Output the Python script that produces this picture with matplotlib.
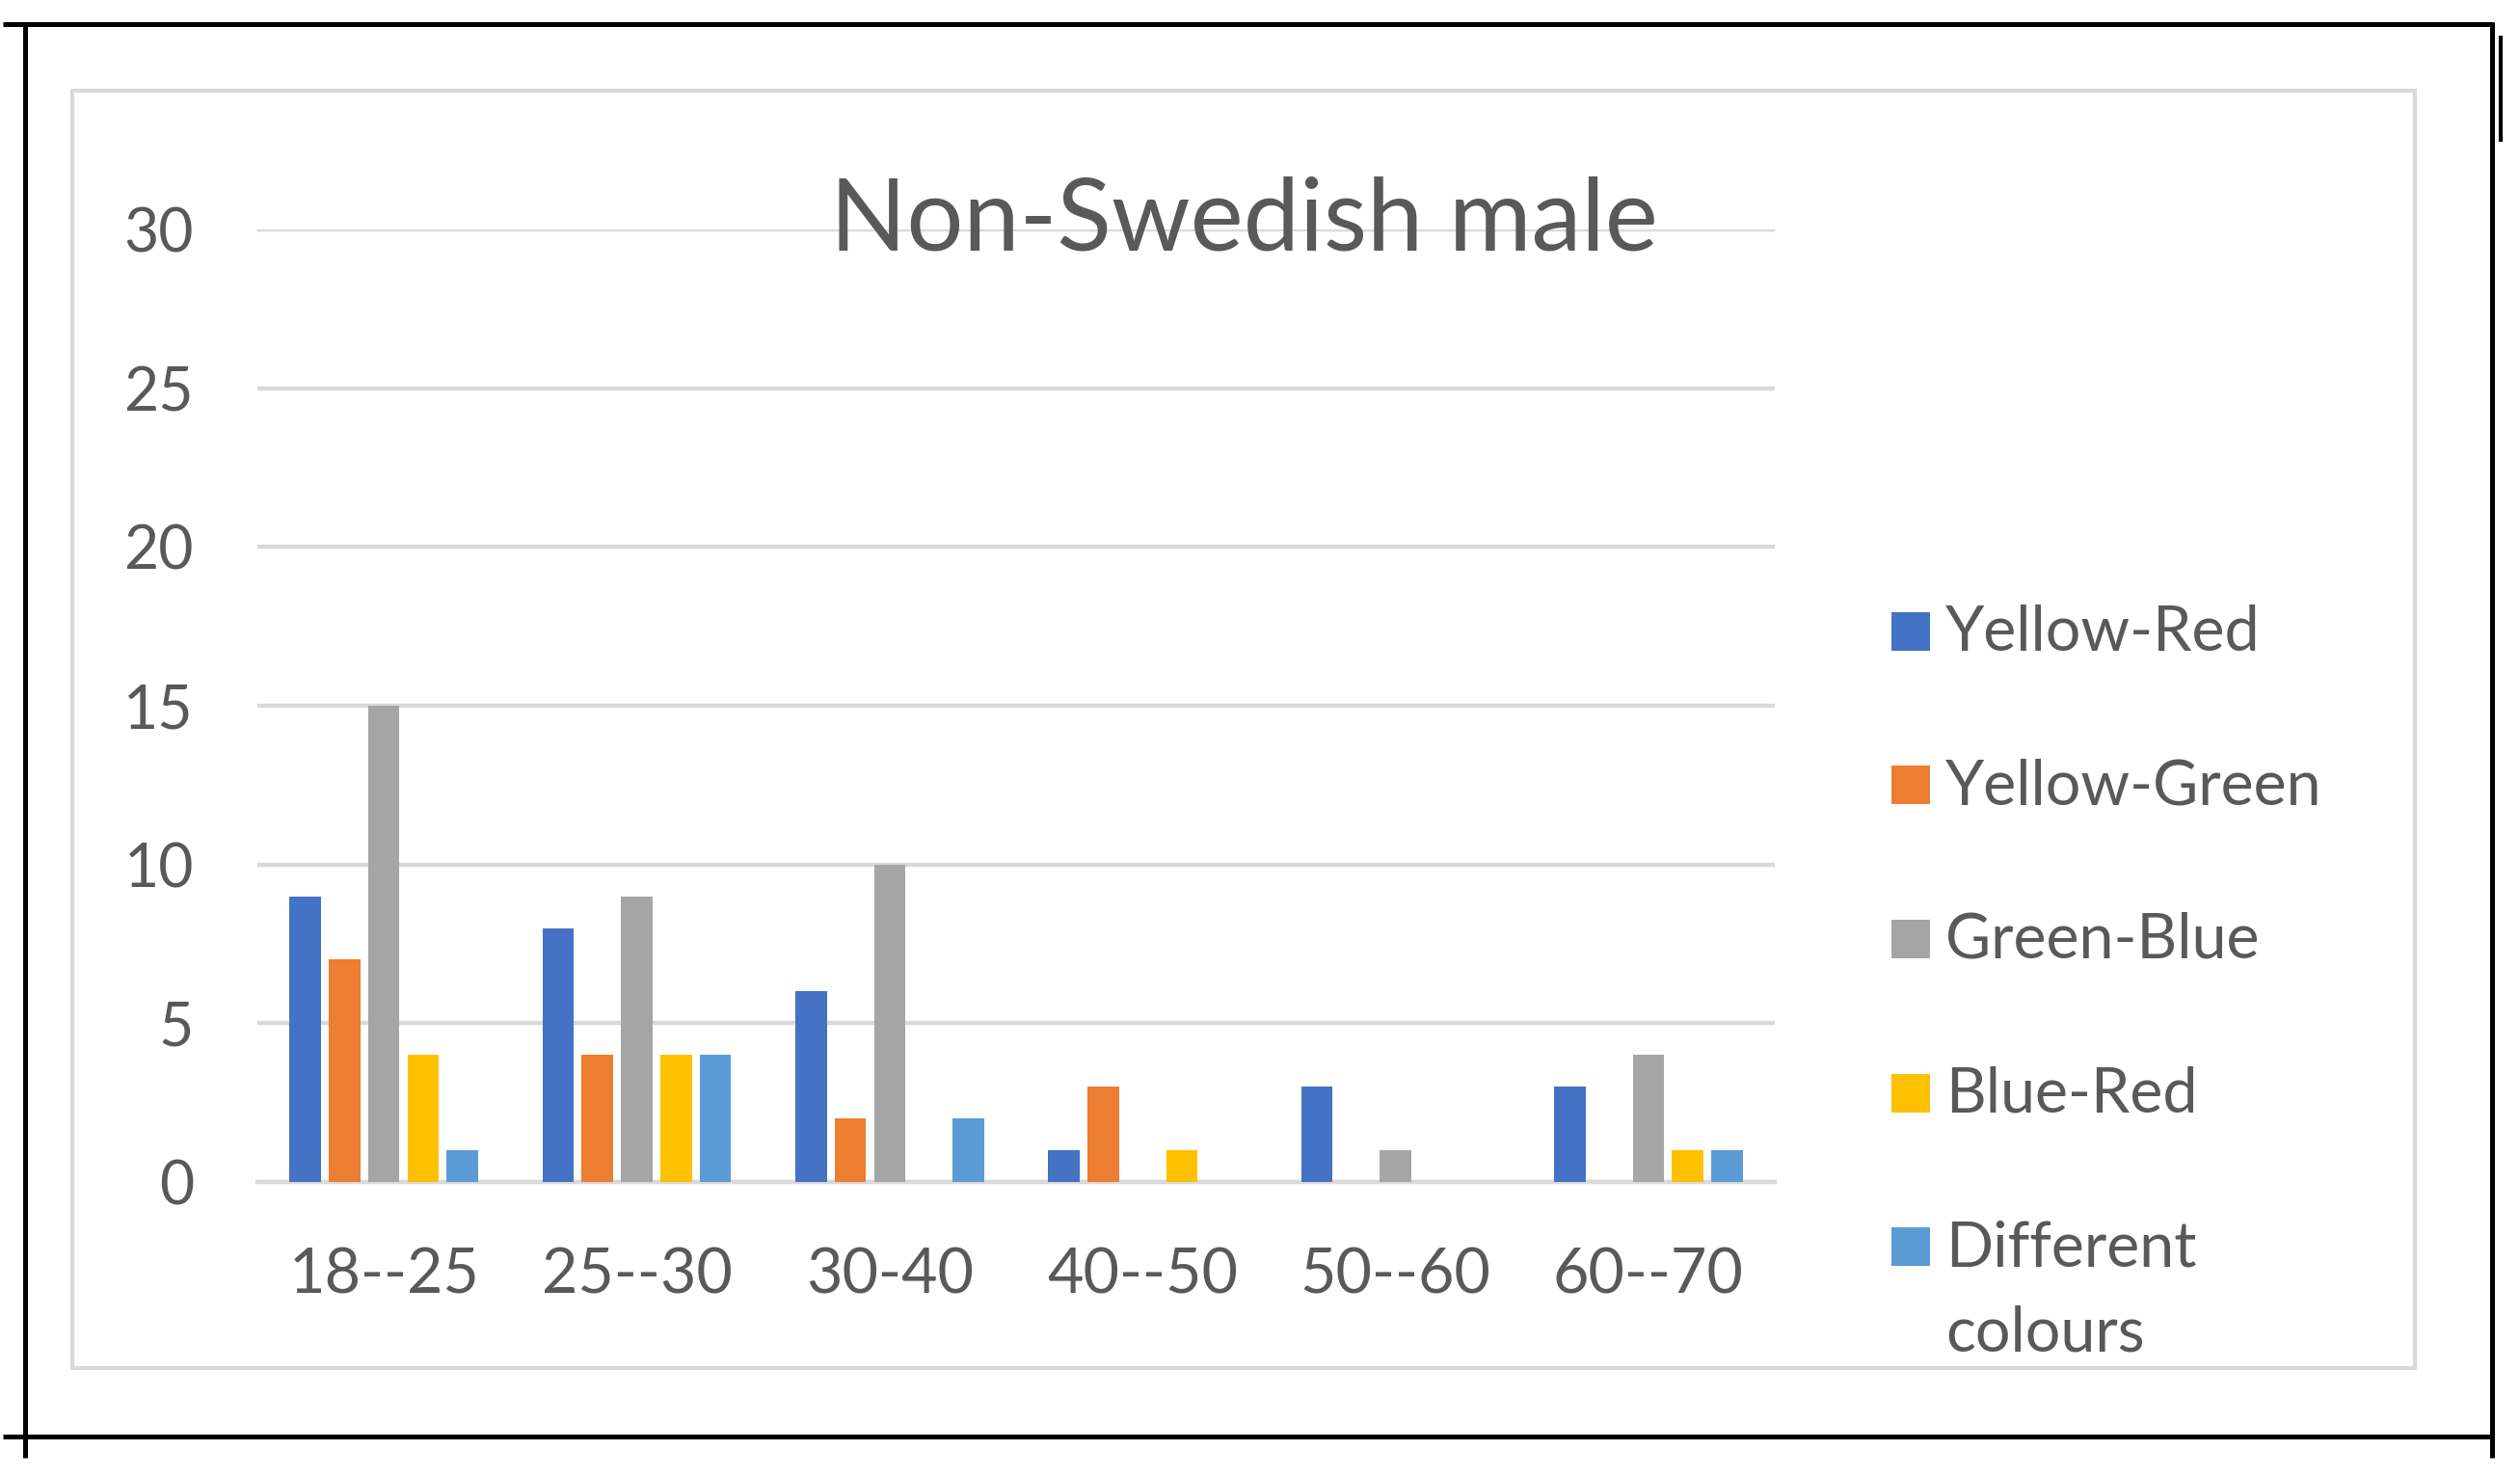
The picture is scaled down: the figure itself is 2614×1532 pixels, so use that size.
import matplotlib
matplotlib.use("Agg")
import matplotlib.pyplot as plt
from matplotlib.lines import Line2D
from matplotlib.patches import Rectangle
import numpy as np

plt.rcParams['font.family'] = ['Lato', 'DejaVu Sans']

# ---- data ----
title = "Non-Swedish male"
categories = ["18--25", "25--30", "30-40", "40--50", "50--60", "60--70"]
series_names = ["Yellow-Red", "Yellow-Green", "Green-Blue", "Blue-Red", "Different\ncolours"]
yellow_red = [9, 8, 6, 1, 3, 3]
yellow_green = [7, 4, 2, 3, 0, 0]
green_blue = [15, 9, 10, 0, 1, 4]
blue_red = [4, 4, 0, 1, 0, 1]
different = [1, 4, 2, 0, 0, 1]
yticks = [0, 5, 10, 15, 20, 25, 30]

series_values = [yellow_red, yellow_green, green_blue, blue_red, different]
colors = ["#4472C4", "#ED7D31", "#A5A5A5", "#FFC000", "#5B9BD5"]

W, H = 2614, 1532
DPI = 100
fig = plt.figure(figsize=(W / DPI, H / DPI), dpi=DPI)
fig.patch.set_facecolor("white")

def fx(x):
    return x / W

def fy(y):
    return 1 - y / H

# axes placement (pixel measured)
ax_l, ax_r, ax_t, ax_b = 267, 1841, 238, 1226
ax = fig.add_axes([fx(ax_l), fy(ax_b), fx(ax_r) - fx(ax_l), fy(ax_t) - fy(ax_b)])
ax.set_facecolor("none")

n = len(series_values)
x = np.arange(len(categories))
step = 0.1554
width = 0.124
for j, (vals, col) in enumerate(zip(series_values, colors)):
    ax.bar(x + (j - (n - 1) / 2) * step, vals, width=width, color=col,
           edgecolor="none", zorder=3)

ax.set_xlim(-0.5, len(categories) - 0.5)
ax.set_ylim(0, 30)
ax.set_yticks(yticks)
ax.set_xticks(x)
ax.set_xticklabels(categories)
ax.grid(axis="y", color="#D9D9D9", linewidth=3.2, zorder=0)
ax.set_axisbelow(True)
for s in ["top", "right", "left"]:
    ax.spines[s].set_visible(False)
ax.spines["bottom"].set_color("#D9D9D9")
ax.spines["bottom"].set_linewidth(3.2)
ax.spines["bottom"].set_zorder(0)

ax.tick_params(axis="y", length=0, colors="#595959", labelsize=45, pad=47.5)
ax.tick_params(axis="x", length=0, colors="#595959", labelsize=46.5, pad=83.5)
for lbl in ax.get_xticklabels():
    lbl.set_verticalalignment("baseline")

# title (drawn on top of the gridline)
fig.text(fx(1290), fy(260), title, ha="center", va="baseline",
         fontsize=75, color="#595959", zorder=10)

# legend drawn manually
leg_x_sq, sq = 1962, 40
leg_x_txt = 2018
y0, dy = 655, 159.5
for j, (name, col) in enumerate(zip(series_names, colors)):
    cy = y0 + j * dy
    fig.add_artist(Rectangle((fx(leg_x_sq), fy(cy + sq / 2)), fx(sq), sq / H,
                             transform=fig.transFigure, facecolor=col,
                             edgecolor="none"))
    for k, line in enumerate(name.split("\n")):
        fig.text(fx(leg_x_txt), fy(cy + 20 + k * 88), line, ha="left",
                 va="baseline", fontsize=46.5, color="#595959")

# inner chart-area border
fig.add_artist(Rectangle((fx(75), fy(1419)), fx(2505) - fx(75), fy(94) - fy(1419),
                         transform=fig.transFigure, facecolor="none",
                         edgecolor="#D9D9D9", linewidth=3.0, zorder=0))

# outer black page frame lines
def hline(x1, x2, y, lw=3.6):
    fig.add_artist(Line2D([fx(x1), fx(x2)], [fy(y), fy(y)], transform=fig.transFigure,
                          color="black", linewidth=lw, solid_capstyle="butt"))

def vline(x, y1, y2, lw=3.6):
    fig.add_artist(Line2D([fx(x), fx(x)], [fy(y1), fy(y2)], transform=fig.transFigure,
                          color="black", linewidth=lw, solid_capstyle="butt"))

hline(3, 2587, 25)
hline(3, 2587, 1490)
vline(26, 23, 1512)
vline(2585, 23, 1512)
vline(2594, 37, 147, lw=3.0)

fig.savefig("out.png", dpi=DPI, facecolor="white")
